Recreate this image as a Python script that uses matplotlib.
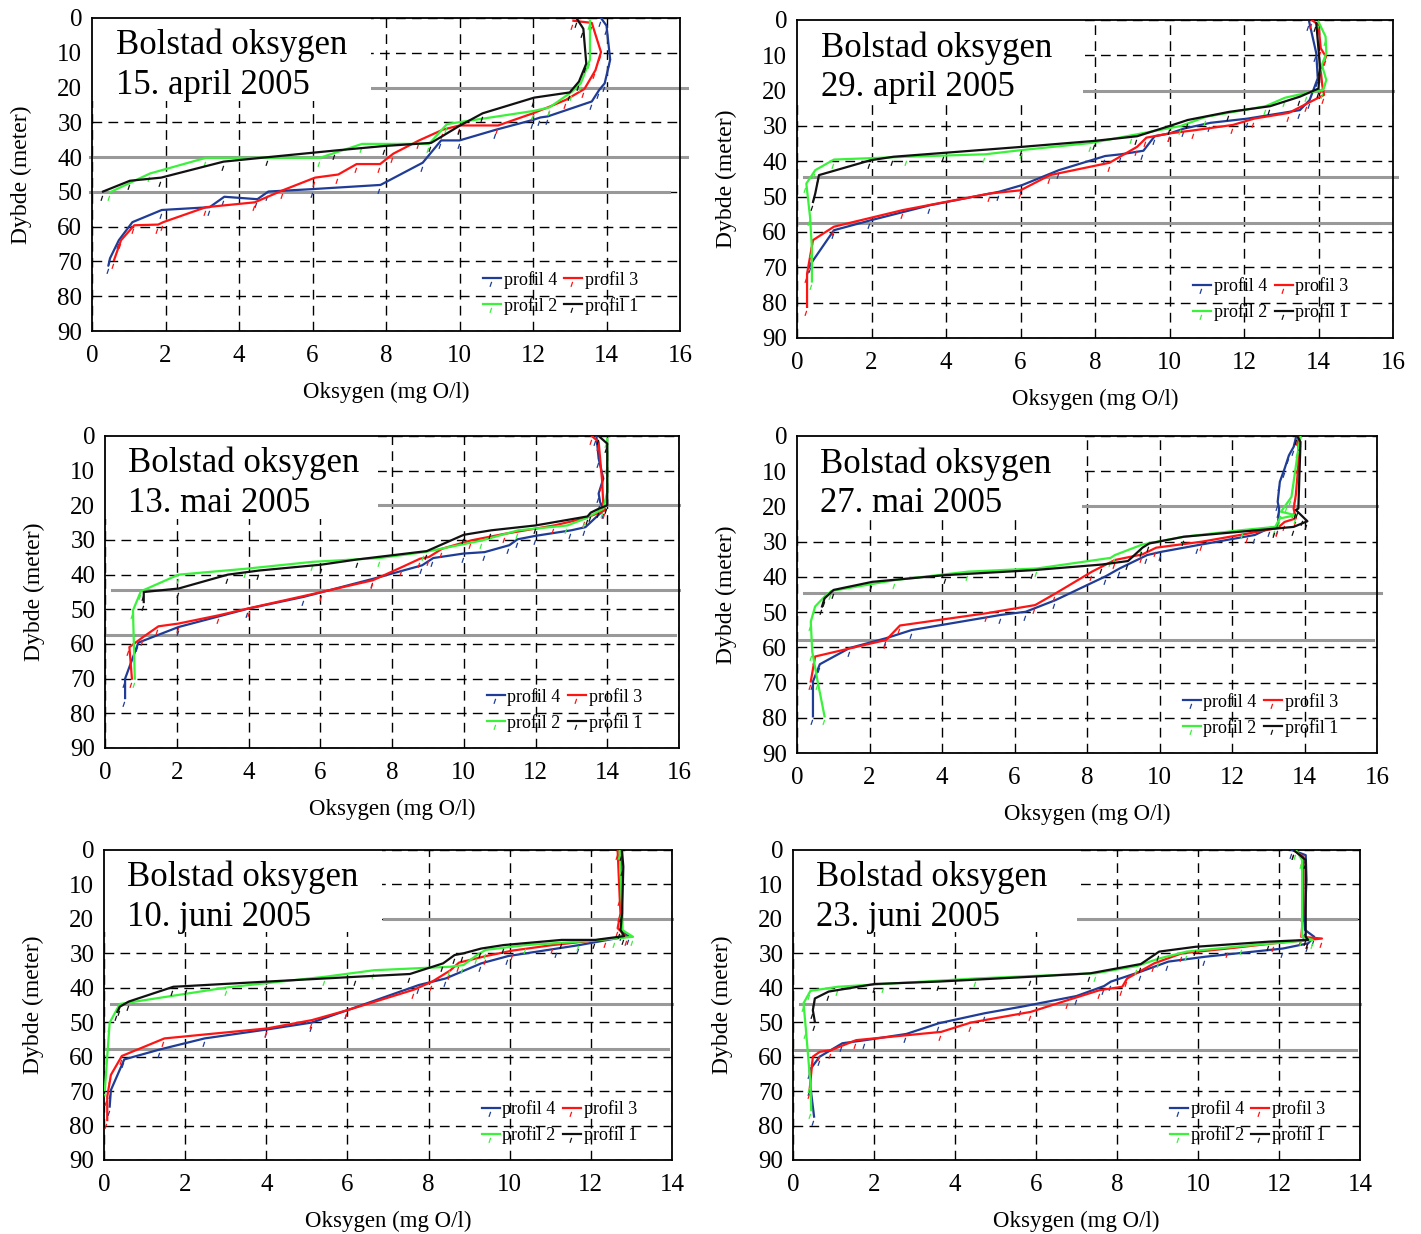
import matplotlib
matplotlib.use("Agg")
import matplotlib.pyplot as plt
from matplotlib.path import Path
from matplotlib.patches import Rectangle

plt.rcParams['font.family'] = ['Liberation Serif', 'DejaVu Serif']

# ---- 15. april 2005 ----
apr15_p4_x = [13.85, 14.0, 14.1, 13.95, 13.8, 13.6, 12.4, 12.2, 12.0, 11.0, 10.0, 9.5, 9.0, 7.85, 6.0, 4.8, 4.5, 3.6, 3.2, 1.9, 1.1, 0.73, 0.49, 0.45]
apr15_p4_z = [0, 2.2, 12, 18.8, 20.7, 24, 28.3, 28.6, 29.3, 32.1, 35.2, 35.2, 41.6, 48, 49.2, 49.9, 52.1, 51.4, 54.4, 55.2, 58.7, 63.9, 69.1, 71]
apr15_p3_x = [13.1, 13.6, 13.85, 13.7, 13.4, 12.9, 12.45, 12.0, 11.05, 10.0, 9.55, 8.9, 8.2, 7.84, 7.2, 6.7, 6.07, 5.2, 4.43, 3.1, 1.94, 1.8, 1.15, 0.79, 0.6]
apr15_p3_z = [0.8, 1.4, 9.8, 15, 20.4, 23.5, 25.5, 27.4, 30.9, 30.9, 32.1, 35.2, 39, 42, 42, 45, 45.9, 49.5, 53, 54.4, 58.7, 59.4, 59.6, 63.9, 69.6]
apr15_p2_x = [13.55, 13.55, 13.3, 13.06, 12.45, 12.03, 9.66, 9.17, 7.35, 6.2, 3.1, 1.58, 0.49]
apr15_p2_z = [0.8, 12, 18.8, 21.2, 25.7, 26.7, 30.5, 36.2, 36.2, 40.2, 40.2, 44.7, 50.1]
apr15_p1_x = [13.2, 13.37, 13.45, 13.25, 13.0, 12.03, 10.63, 10.0, 9.23, 7.96, 6.62, 4.8, 3.58, 1.88, 1.03, 0.30]
apr15_p1_z = [0.3, 3.1, 13.1, 18.3, 21.4, 22.9, 27.4, 31, 35.9, 36.8, 38.1, 40, 41.3, 45.9, 46.8, 49.9]

# ---- 29. april 2005 ----
apr29_p4_x = [13.75, 13.94, 13.98, 13.76, 13.5, 12.1, 11.1, 10.4, 10.0, 9.6, 9.3, 8.7, 8.27, 7.03, 6.05, 5.43, 3.58, 1.97, 0.99, 0.37, 0.33]
apr29_p4_z = [0.5, 9.4, 16.5, 22.7, 25.5, 27.9, 29.1, 30.7, 32.1, 32.9, 37, 38, 38.5, 42.5, 46.7, 48.6, 52.4, 56.7, 59.5, 69, 70]
apr29_p3_x = [13.82, 14.0, 14.06, 14.2, 14.06, 14.1, 14.15, 13.7, 13.2, 12.28, 11.7, 10.67, 10.0, 9.38, 9.13, 8.39, 6.79, 6.0, 5.18, 2.84, 0.99, 0.43, 0.27, 0.27]
apr29_p3_z = [0, 1.4, 8, 10.4, 14.2, 18.4, 21.2, 23.6, 26.3, 27.9, 29.7, 31.2, 32.1, 33.3, 35.9, 40.4, 43.9, 48.2, 49.1, 53.8, 58.5, 62.3, 71.8, 81.2]
apr29_p2_x = [14.0, 14.19, 14.21, 14.09, 14.21, 14.12, 13.7, 13.1, 12.58, 10.98, 10.3, 9.0, 7.9, 6.04, 5.06, 2.96, 0.99, 0.49, 0.25, 0.35, 0.4, 0.4]
apr29_p2_z = [0.5, 4.7, 9.4, 12.7, 17, 19.8, 20.6, 22, 24.4, 27.4, 30, 32.6, 34.8, 36.8, 38, 38.7, 39.5, 42.5, 46.3, 55.7, 64.7, 74]
apr29_p1_x = [13.94, 14.04, 14.0, 13.5, 12.7, 11.6, 10.49, 10.0, 9.13, 8.0, 6.04, 3.95, 2.59, 1.97, 0.59, 0.49, 0.43]
apr29_p1_z = [0.9, 13.2, 19.4, 21.7, 24.4, 26, 28.3, 30, 32.9, 34.2, 35.9, 37.6, 38.7, 39.7, 43.9, 49.1, 51.5]

# ---- 13. mai 2005 ----
mai13_p4_x = [13.7, 13.76, 13.89, 13.76, 13.8, 13.9, 13.39, 13.0, 12.0, 11.5, 11.27, 10.58, 10.0, 9.15, 8.84, 7.47, 5.54, 3.99, 2.05, 0.93, 0.56, 0.56]
mai13_p4_z = [0.3, 6.5, 12.3, 16.6, 19, 21.4, 26.3, 27.2, 28.8, 29.8, 31.5, 33.5, 33.9, 35.2, 37.3, 41.2, 46.4, 49.8, 55.1, 59.6, 70, 75.6]
mai13_p3_x = [13.57, 13.76, 13.86, 13.89, 13.95, 13.39, 12.52, 11.15, 10.21, 9.4, 9.03, 8.78, 8.28, 7.47, 6.04, 4.05, 3.18, 2.05, 1.49, 1.06, 0.68, 0.75]
mai13_p3_z = [0, 1.7, 13.3, 20, 21.4, 23.7, 25.8, 28.2, 30.1, 32.5, 34.9, 35.4, 37.8, 41.6, 45, 49.6, 51.7, 54.1, 54.9, 58, 60.9, 70]
mai13_p2_x = [14.0, 14.0, 14.0, 13.89, 13.39, 12.89, 11.52, 10.52, 8.9, 7.66, 5.79, 3.92, 2.05, 1.0, 0.78, 0.83]
mai13_p2_z = [0.8, 8.5, 16.2, 21, 23.8, 25.8, 27.2, 30.1, 33.5, 35.2, 36.3, 38.3, 40, 44.8, 50.3, 70]
mai13_p1_x = [13.76, 14.0, 14.0, 13.76, 13.54, 13.45, 12.0, 10.77, 10.0, 8.97, 7.04, 6.04, 4.3, 3.42, 2.05, 1.08, 1.08]
mai13_p1_z = [0, 2.2, 20, 21, 22.1, 23.2, 25.8, 27.2, 28.5, 33.2, 35.6, 37.1, 38.8, 40, 44, 45, 47.9]

# ---- 27. mai 2005 ----
mai27_p4_x = [13.76, 13.7, 13.57, 13.45, 13.32, 13.26, 13.3, 13.26, 13.04, 12.63, 11.05, 10.04, 9.66, 8.9, 8.52, 7.13, 6.31, 5.62, 3.16, 2.46, 1.45, 0.63, 0.44, 0.44]
mai27_p4_z = [0.6, 3.1, 5.5, 9.3, 13, 18.7, 20.6, 25.8, 26.1, 28.1, 31, 32.9, 33.8, 37.6, 39.8, 46.6, 49.9, 50.8, 55.1, 57.4, 60.2, 64.8, 69.7, 79.6]
mai27_p3_x = [13.83, 13.83, 13.76, 13.7, 13.76, 13.45, 13.26, 12.44, 11.17, 9.91, 9.53, 8.77, 8.14, 7.13, 6.57, 5.24, 2.84, 2.46, 0.5, 0.38]
mai27_p3_z = [0.3, 8.3, 16.8, 20.6, 23.4, 24.4, 26.1, 27.7, 30, 31.7, 33.6, 35.2, 38.5, 44.7, 48, 50.3, 53.8, 57.9, 62.6, 69.7]
mai27_p2_x = [13.89, 13.83, 13.7, 13.64, 13.51, 13.35, 13.76, 13.32, 13.19, 12.3, 10.67, 9.53, 8.77, 8.65, 6.63, 4.73, 2.71, 0.95, 0.76, 0.5, 0.38, 0.42, 0.57, 0.76]
mai27_p2_z = [0.3, 3.6, 13, 17.3, 19.2, 21.5, 22.5, 23.4, 25.8, 26.7, 28.6, 30.8, 33.8, 34.6, 37.6, 38.5, 40.9, 44, 45.6, 48.4, 52.7, 61.2, 69.7, 79.6]
mai27_p1_x = [13.8, 13.89, 13.83, 13.76, 13.95, 14.08, 13.7, 13.19, 10.67, 9.72, 9.53, 9.13, 8.4, 6.5, 4.1, 2.08, 1.01, 0.76, 0.69]
mai27_p1_z = [0, 1.7, 20.6, 21, 22.9, 24.2, 25.8, 26.3, 28.6, 30.5, 31.7, 35.5, 36.5, 38.1, 39.5, 41.4, 43.7, 46.1, 48.4]

# ---- 10. juni 2005 ----
jun10_p4_x = [12.74, 12.77, 12.77, 12.93, 11.72, 11.17, 9.96, 9.3, 8.42, 7.76, 6.0, 5.12, 4.02, 2.48, 1.38, 0.5, 0.17, 0.14]
jun10_p4_z = [0.5, 18.4, 23.7, 25, 27.6, 28.6, 30.8, 32.9, 37.3, 39.2, 46.5, 50.1, 52.1, 54.7, 57.9, 60.8, 69.7, 74.5]
jun10_p3_x = [12.66, 12.71, 12.73, 12.66, 12.88, 12.38, 11.06, 10.07, 9.41, 8.75, 8.53, 8.09, 7.65, 6.0, 5.12, 4.02, 1.49, 0.44, 0.17, 0.08, 0.08]
jun10_p3_z = [0.2, 13.6, 18.4, 22.7, 25.2, 25.9, 27.6, 29.2, 30.8, 32.7, 35, 38.2, 40.5, 46.5, 49.4, 51.8, 54.7, 59.8, 65.3, 71.6, 78.4]
jun10_p2_x = [12.71, 12.77, 12.77, 13.04, 12.6, 11.72, 10.4, 9.41, 9.19, 8.86, 8.53, 6.66, 5.45, 3.03, 0.39, 0.14, 0.02]
jun10_p2_z = [0.2, 17.4, 23.2, 25.2, 25.7, 26.6, 27.6, 29, 30.5, 33.4, 33.9, 34.9, 36.8, 39.9, 44.7, 50.1, 69.7]
jun10_p1_x = [12.77, 12.8, 12.77, 12.73, 12.82, 12.11, 11.28, 9.85, 9.3, 8.86, 8.64, 8.36, 7.54, 6.22, 4.02, 2.04, 1.71, 0.61, 0.39, 0.33]
jun10_p1_z = [0.5, 4.8, 18.4, 23.2, 25, 26.1, 26.1, 27.6, 28.6, 30, 30.5, 32.9, 36, 36.8, 38.2, 39.5, 39.7, 44, 45.5, 47]

# ---- 23. juni 2005 ----
jun23_p4_x = [12.32, 12.66, 12.68, 12.64, 12.64, 12.87, 12.72, 12.1, 10.17, 9.27, 8.59, 7.85, 7.68, 7.0, 5.64, 4.73, 3.6, 2.8, 1.79, 1.22, 0.66, 0.41, 0.43, 0.52]
jun23_p4_z = [0, 1.5, 8.7, 18.4, 23.2, 25.2, 27.1, 28.6, 31, 32.4, 35.3, 38.2, 39.5, 42.4, 45.5, 47.4, 50.3, 53.4, 55.2, 56.1, 60, 63.9, 68.7, 77.4]
jun23_p3_x = [12.38, 12.6, 12.6, 12.55, 13.06, 12.72, 11.87, 10.74, 9.6, 8.92, 8.25, 8.13, 7.57, 6.78, 5.87, 4.39, 3.66, 1.56, 0.94, 0.66, 0.49, 0.41]
jun23_p3_z = [0.2, 1.9, 18.4, 25.2, 25.7, 26.1, 27.1, 28.6, 30, 32.9, 37.3, 39.7, 40.7, 43.6, 47, 50.1, 52.8, 55.2, 58.1, 58.6, 60, 69.7]
jun23_p2_x = [12.43, 12.57, 12.57, 12.83, 11.08, 9.72, 9.04, 8.49, 7.47, 4.51, 2.24, 1.11, 0.43, 0.26, 0.32, 0.43, 0.45]
jun23_p2_z = [0.2, 2.9, 25.2, 26.1, 27.9, 29.5, 31.5, 33.7, 35.8, 37.3, 38.9, 39.7, 40.9, 44.5, 52.3, 67.8, 75.5]
jun23_p1_x = [12.38, 12.66, 12.66, 12.72, 11.76, 9.94, 9.04, 8.59, 7.34, 5.87, 3.6, 2.02, 0.88, 0.54, 0.49, 0.54]
jun23_p1_z = [0.2, 2.9, 25.2, 26.1, 26.6, 28.1, 29.5, 33.1, 35.8, 36.8, 38.2, 38.9, 41.1, 43.1, 46.5, 49.9]

# grey reference depths: depth, start x, end x
apr15_ref = [(20, 7.6, 16.2), (40, -0.05, 16.2), (50, -0.05, 15.7)]
apr29_ref = [(20, 7.6, 16.0), (44.5, 0.2, 16.1), (57.5, 0.05, 15.95)]
mai13_ref = [(20, 7.6, 16.0), (44.5, 0.2, 16.0), (57.5, 0.0, 15.9)]
mai27_ref = [(20, 7.9, 16.0), (44.7, 0.2, 16.1), (58.0, 0.0, 15.9)]
jun10_ref = [(20, 6.9, 14.0), (44.7, 0.17, 14.0), (57.9, 0.0, 13.9)]
jun23_ref = [(20, 7.0, 13.9), (44.7, 0.18, 14.0), (58.0, 0.0, 13.9)]

labels = ["profil 4", "profil 3", "profil 2", "profil 1"]
colors = ["#1f3c96", "#ff1414", "#3af23a", "#111111"]

W, H = 1421, 1234
fig = plt.figure(figsize=(W / 100, H / 100), dpi=100)

# little slanted tick drawn under every sample point
tick_mark = Path([(-0.3, -1.0), (-0.1, -0.4)], [Path.MOVETO, Path.LINETO])


def draw_panel(px, title, xmax, profiles, refs, box_w):
    left, right, top, bottom = px
    ax = fig.add_axes([left / W, 1 - bottom / H, (right - left) / W, (bottom - top) / H])
    ax.set_xlim(0, xmax)
    ax.set_ylim(90, 0)
    ax.set_xticks(range(0, xmax + 1, 2))
    ax.set_yticks(range(0, 91, 10))
    ax.set_axisbelow(True)
    ax.grid(True, color="black", linestyle=(0, (7, 4.5)), linewidth=1.0)
    ax.tick_params(length=0, labelsize=18)
    ax.tick_params(axis="x", pad=10)
    ax.tick_params(axis="y", pad=7)
    for s in ax.spines.values():
        s.set_linewidth(1.3)

    for d, x0, x1 in refs:
        ax.plot([x0, x1], [d, d], color="#999999", lw=2.2, zorder=1, clip_on=False)

    # white patch behind the title
    ax.add_patch(Rectangle((0, 0.735), box_w, 0.265, transform=ax.transAxes,
                           facecolor="white", edgecolor="none", zorder=1.5))

    handles = []
    for (x, z), lab, c in zip(profiles, labels, colors):
        h, = ax.plot(x, z, color=c, lw=1.6, label=lab, zorder=3,
                     marker=tick_mark, markersize=12, markeredgewidth=0.9,
                     markeredgecolor=c, markerfacecolor="none")
        handles.append(h)

    ax.text(0.04, 0.965, title, transform=ax.transAxes, ha="left", va="top",
            fontsize=25, linespacing=1.25, zorder=4)

    ax.set_xlabel("Oksygen (mg O/l)", fontsize=16.5, labelpad=11)
    ax.set_ylabel("Dybde (meter)", fontsize=17, labelpad=18)

    order = [handles[0], handles[2], handles[1], handles[3]]
    ax.legend(order, [h.get_label() for h in order], ncol=2, loc="lower left",
              bbox_to_anchor=(0.665, 0.052), frameon=False, fontsize=13,
              handlelength=1.0, handletextpad=0.15, columnspacing=0.4,
              labelspacing=0.45, borderpad=0, borderaxespad=0, numpoints=1)
    return ax


draw_panel((92, 680, 18, 331), "Bolstad oksygen\n15. april 2005", 16,
           [(apr15_p4_x, apr15_p4_z), (apr15_p3_x, apr15_p3_z),
            (apr15_p2_x, apr15_p2_z), (apr15_p1_x, apr15_p1_z)], apr15_ref, 0.475)
draw_panel((797, 1393, 20, 338), "Bolstad oksygen\n29. april 2005", 16,
           [(apr29_p4_x, apr29_p4_z), (apr29_p3_x, apr29_p3_z),
            (apr29_p2_x, apr29_p2_z), (apr29_p1_x, apr29_p1_z)], apr29_ref, 0.48)
draw_panel((105, 679, 436, 748), "Bolstad oksygen\n13. mai 2005", 16,
           [(mai13_p4_x, mai13_p4_z), (mai13_p3_x, mai13_p3_z),
            (mai13_p2_x, mai13_p2_z), (mai13_p1_x, mai13_p1_z)], mai13_ref, 0.475)
draw_panel((797, 1377, 436, 753), "Bolstad oksygen\n27. mai 2005", 16,
           [(mai27_p4_x, mai27_p4_z), (mai27_p3_x, mai27_p3_z),
            (mai27_p2_x, mai27_p2_z), (mai27_p1_x, mai27_p1_z)], mai27_ref, 0.49)
draw_panel((104, 672, 850, 1160), "Bolstad oksygen\n10. juni 2005", 14,
           [(jun10_p4_x, jun10_p4_z), (jun10_p3_x, jun10_p3_z),
            (jun10_p2_x, jun10_p2_z), (jun10_p1_x, jun10_p1_z)], jun10_ref, 0.49)
draw_panel((793, 1360, 850, 1160), "Bolstad oksygen\n23. juni 2005", 14,
           [(jun23_p4_x, jun23_p4_z), (jun23_p3_x, jun23_p3_z),
            (jun23_p2_x, jun23_p2_z), (jun23_p1_x, jun23_p1_z)], jun23_ref, 0.5)

fig.savefig("out.png", dpi=100)
